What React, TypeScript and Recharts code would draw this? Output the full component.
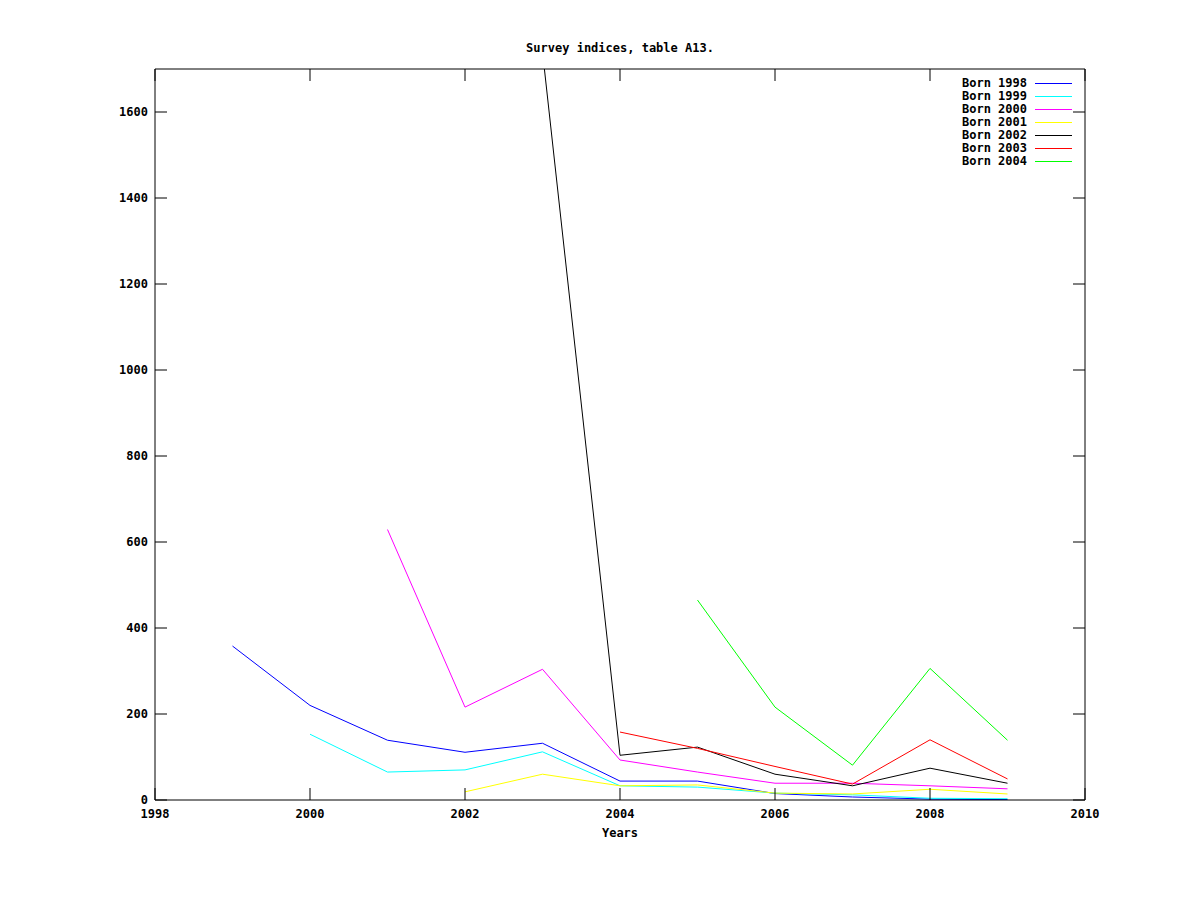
import React from "react";
import { LineChart, Line, XAxis, YAxis } from "recharts";

const years = [1999, 2000, 2001, 2002, 2003, 2004, 2005, 2006, 2007, 2008, 2009];
const xTicks = [1998, 2000, 2002, 2004, 2006, 2008, 2010];
const yTicks = [0, 200, 400, 600, 800, 1000, 1200, 1400, 1600];

// one array per cohort, aligned with `years` (null = not surveyed yet)
const born1998 = [358, 220, 139, 111, 132, 44, 44, 15, 7, 2, 1];
const born1999 = [null, 153, 65, 70, 112, 33, 30, 16, 12, 4, 3];
const born2000 = [null, null, 629, 216, 304, 93, 65, 39, 39, 33, 26];
const born2001 = [null, null, null, 19, 60, 33, 35, 16, 14, 25, 14];
const born2002 = [null, null, null, null, 1740, 104, 123, 60, 33, 74, 39];
const born2003 = [null, null, null, null, null, 158, 120, 78, 37, 140, 49];
const born2004 = [null, null, null, null, null, null, 465, 216, 81, 306, 139];

const series = [
  { key: "b1998", name: "Born 1998", values: born1998, color: "#0000ff" },
  { key: "b1999", name: "Born 1999", values: born1999, color: "#00ffff" },
  { key: "b2000", name: "Born 2000", values: born2000, color: "#ff00ff" },
  { key: "b2001", name: "Born 2001", values: born2001, color: "#ffff00" },
  { key: "b2002", name: "Born 2002", values: born2002, color: "#000000" },
  { key: "b2003", name: "Born 2003", values: born2003, color: "#ff0000" },
  { key: "b2004", name: "Born 2004", values: born2004, color: "#00ff00" },
];

const data = years.map((year, i) => {
  const row: Record<string, number | undefined> = { year };
  series.forEach(s => {
    const v = s.values[i];
    row[s.key] = v == null ? undefined : v;
  });
  return row;
});

const FONT = "'DejaVu Sans Mono', 'Liberation Mono', monospace";
const textStyle = { fill: "#000", fontSize: 12, fontFamily: FONT, fontWeight: "bold" as const };
const TICK = 12;

// gnuplot style ticks: pointing inward, label outside
const BottomTick = (p: any) => (
  <g>
    <line x1={p.x} x2={p.x} y1={p.y - 9} y2={p.y - 9 - TICK} stroke="#000" />
    <text x={p.x} y={p.y + 9} textAnchor="middle" {...textStyle}>{p.payload.value}</text>
  </g>
);
const LeftTick = (p: any) => (
  <g>
    <line x1={p.x + 7} x2={p.x + 7 + TICK} y1={p.y} y2={p.y} stroke="#000" />
    <text x={p.x} y={p.y + 4} textAnchor="end" {...textStyle}>{p.payload.value}</text>
  </g>
);
const TopTick = (p: any) => (
  <line x1={p.x} x2={p.x} y1={p.y} y2={p.y + TICK} stroke="#000" />
);
const RightTick = (p: any) => (
  <line x1={p.x} x2={p.x - TICK} y1={p.y} y2={p.y} stroke="#000" />
);

function LegendBox() {
  return (
    <div
      style={{
        position: "absolute", top: 77, left: 900, width: 173,
        fontFamily: FONT, fontSize: 12, fontWeight: "bold",
      }}
    >
      {series.map(s => (
        <div key={s.key} style={{ display: "flex", alignItems: "center", height: 13, justifyContent: "flex-end" }}>
          <span style={{ lineHeight: "13px" }}>{s.name}</span>
          <svg width={46} height={13} style={{ display: "block" }}>
            <line x1={8} x2={45} y1={6.5} y2={6.5} stroke={s.color} strokeWidth={1} />
          </svg>
        </div>
      ))}
    </div>
  );
}

export default function App() {
  return (
    <div style={{ position: "absolute", left: 0, top: 0, width: 1200, height: 900, background: "#fff" }}>
      <div
        style={{
          position: "absolute", top: 41, left: 420, width: 400, textAlign: "center",
          fontFamily: FONT, fontSize: 12, fontWeight: "bold", lineHeight: "14px",
        }}
      >
        Survey indices, table A13.
      </div>
      <LineChart width={1200} height={900} data={data} margin={{ top: 49, right: 95, left: 0, bottom: 0 }}>
        <XAxis
          xAxisId="bottom"
          dataKey="year"
          type="number"
          domain={[1998, 2010]}
          ticks={xTicks}
          height={100}
          stroke="#000"
          tickLine={false}
          tickSize={0}
          tickMargin={9}
          tick={<BottomTick />}
          label={{ value: "Years", position: "insideTop", offset: 28, style: textStyle }}
        />
        <XAxis
          xAxisId="top"
          orientation="top"
          dataKey="year"
          type="number"
          domain={[1998, 2010]}
          ticks={xTicks}
          height={20}
          stroke="#000"
          tickLine={false}
          tickSize={0}
          tickMargin={0}
          tick={<TopTick />}
        />
        <YAxis
          yAxisId="left"
          type="number"
          domain={[0, 1700]}
          ticks={yTicks}
          allowDataOverflow
          width={155}
          stroke="#000"
          tickLine={false}
          tickSize={0}
          tickMargin={7}
          tick={<LeftTick />}
        />
        <YAxis
          yAxisId="right"
          orientation="right"
          type="number"
          domain={[0, 1700]}
          ticks={yTicks}
          allowDataOverflow
          width={20}
          stroke="#000"
          tickLine={false}
          tickSize={0}
          tickMargin={0}
          tick={<RightTick />}
        />
        {series.map(s => (
          <Line
            key={s.key}
            xAxisId="bottom"
            yAxisId="left"
            dataKey={s.key}
            name={s.name}
            stroke={s.color}
            strokeWidth={1}
            dot={false}
            activeDot={false}
            connectNulls={false}
            isAnimationActive={false}
          />
        ))}
      </LineChart>
      <LegendBox />
    </div>
  );
}
